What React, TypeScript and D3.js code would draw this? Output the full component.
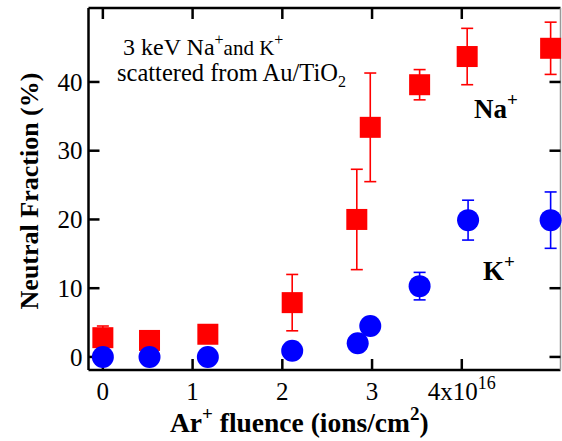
import React from "react";
import * as d3 from "d3";

// Na+ neutral fraction vs Ar+ fluence (units of 1e16 ions/cm2)
const naFluence = [0, 0.52, 1.17, 2.11, 2.83, 2.98, 3.53, 4.06, 4.99];
const naFraction = [2.8, 2.4, 3.3, 7.9, 20.0, 33.4, 39.6, 43.7, 44.9];
const naError = [1.7, 0, 0, 4.1, 7.3, 7.9, 2.2, 4.1, 3.8];

// K+ neutral fraction
const kFluence = [0, 0.52, 1.17, 2.11, 2.84, 2.98, 3.53, 4.07, 4.99];
const kFraction = [0, 0, 0, 0.9, 2.0, 4.5, 10.3, 19.9, 19.9];
const kError = [0, 0, 0, 0, 0, 0, 2.0, 2.9, 4.1];

const xTicks = [0, 1, 2, 3, 4];
const yTicks = [0, 10, 20, 30, 40];

const width = 562;
const height = 441;
const margin = { top: 8, right: 1.5, bottom: 71, left: 88.5 };

const font = '"Liberation Serif", "Times New Roman", Times, serif';

const App = () => {
  const x = d3
    .scaleLinear()
    .domain([-0.16, 5.1])
    .range([margin.left, width - margin.right]);
  const y = d3
    .scaleLinear()
    .domain([-1.9, 50.76])
    .range([height - margin.bottom, margin.top]);

  const x0 = x.range()[0];
  const x1 = x.range()[1];
  const y0 = y.range()[0];
  const y1 = y.range()[1];
  const tickLen = 11;
  const cap = 6;
  const sq = 21;
  const r = 11;

  const na = naFluence.map((f, i) => ({ f, v: naFraction[i], e: naError[i] }));
  const k = kFluence.map((f, i) => ({ f, v: kFraction[i], e: kError[i] }));

  const errBar = (d: any, color: string, key: string) =>
    d.e > 0 ? (
      <g key={key} stroke={color} strokeWidth={1.6}>
        <line x1={x(d.f)} x2={x(d.f)} y1={y(d.v - d.e)} y2={y(d.v + d.e)} />
        <line x1={x(d.f) - cap} x2={x(d.f) + cap} y1={y(d.v + d.e)} y2={y(d.v + d.e)} />
        <line x1={x(d.f) - cap} x2={x(d.f) + cap} y1={y(d.v - d.e)} y2={y(d.v - d.e)} />
      </g>
    ) : null;

  return (
    <svg
      width={width}
      height={height}
      style={{ position: "absolute", left: 0, top: 0, background: "white" }}
    >
      <g style={{ fontFamily: font }}>
        {/* frame */}
        <line x1={x0} x2={x1} y1={y1} y2={y1} stroke="black" strokeWidth={2.5} />
        <line x1={x0} x2={x1} y1={y0} y2={y0} stroke="black" strokeWidth={2.5} />
        <line x1={x0} x2={x0} y1={y1} y2={y0} stroke="black" strokeWidth={2.5} />
        <line x1={x1} x2={x1} y1={y1} y2={y0} stroke="#999" strokeWidth={1.5} />

        {/* ticks */}
        {xTicks.map((t) => (
          <g key={"xt" + t} stroke="black" strokeWidth={2.5}>
            <line x1={x(t)} x2={x(t)} y1={y0} y2={y0 - tickLen} />
            <line x1={x(t)} x2={x(t)} y1={y1} y2={y1 + tickLen} />
          </g>
        ))}
        {yTicks.map((t) => (
          <g key={"yt" + t} stroke="black" strokeWidth={2.5}>
            <line x1={x0} x2={x0 + tickLen} y1={y(t)} y2={y(t)} />
            <line x1={x1} x2={x1 - tickLen} y1={y(t)} y2={y(t)} />
          </g>
        ))}

        {/* tick labels */}
        {xTicks.map((t) => (
          <text key={"xl" + t} x={x(t)} y={400} fontSize={25} textAnchor="middle">
            {t === 4 ? (
              <>
                4x10<tspan dy={-11} fontSize={18}>16</tspan>
              </>
            ) : (
              t
            )}
          </text>
        ))}
        {yTicks.map((t) => (
          <text key={"yl" + t} x={x0 - 6} y={y(t)} dy="0.35em" fontSize={25} textAnchor="end">
            {t}
          </text>
        ))}

        {/* axis titles */}
        <text x={170} y={432} fontSize={27.5} fontWeight="bold">
          Ar<tspan dy={-12} fontSize={19}>+</tspan>
          <tspan dy={12}> fluence (ions/cm</tspan>
          <tspan dy={-12} fontSize={19}>2</tspan>
          <tspan dy={12}>)</tspan>
        </text>
        <text
          transform={`translate(38, 191) rotate(-90)`}
          fontSize={26}
          fontWeight="bold"
          textAnchor="middle"
        >
          Neutral Fraction (%)
        </text>

        {/* annotation */}
        <text x={123} y={55} fontSize={24}>
          3 keV Na<tspan dy={-10} fontSize={16}>+</tspan>
          <tspan dy={10} fontSize={21}>and K</tspan>
          <tspan dy={-10} fontSize={16}>+</tspan>
        </text>
        <text x={117} y={81} fontSize={24.5}>
          scattered from Au/TiO<tspan dy={6} fontSize={16}>2</tspan>
        </text>
        <text x={474} y={118} fontSize={27} fontWeight="bold">
          Na<tspan dy={-12} fontSize={19}>+</tspan>
        </text>
        <text x={483} y={280} fontSize={27} fontWeight="bold">
          K<tspan dy={-12} fontSize={19}>+</tspan>
        </text>

        {/* Na+ */}
        {na.map((d, i) => errBar(d, "#ff0000", "ne" + i))}
        {na.map((d, i) => (
          <rect
            key={"ns" + i}
            x={x(d.f) - sq / 2}
            y={y(d.v) - sq / 2}
            width={sq}
            height={sq}
            fill="#ff0000"
          />
        ))}

        {/* K+ */}
        {k.map((d, i) => errBar(d, "#0000ff", "ke" + i))}
        {k.map((d, i) => (
          <circle key={"kc" + i} cx={x(d.f)} cy={y(d.v)} r={r} fill="#0000ff" />
        ))}
      </g>
    </svg>
  );
};

export default App;
